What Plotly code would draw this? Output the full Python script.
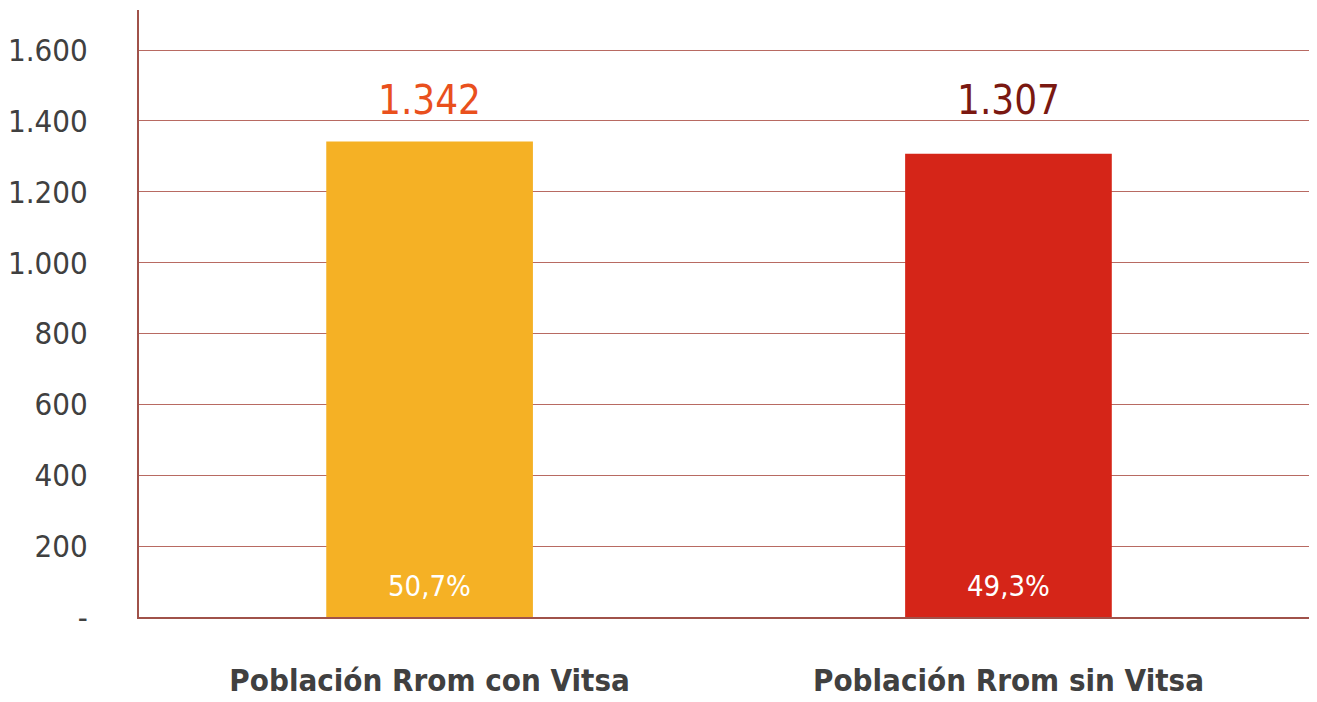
import plotly.graph_objects as go

categories = ["Población Rrom con Vitsa", "Población Rrom sin Vitsa"]
values = [1342, 1307]
shares = [50.7, 49.3]
value_labels = ["1.342", "1.307"]
share_labels = ["50,7%", "49,3%"]
bar_colors = ["#F5B125", "#D52518"]
label_colors = ["#E9501D", "#7A1811"]
y_ticks = [0, 200, 400, 600, 800, 1000, 1200, 1400, 1600]
y_tick_text = ["-", "200", "400", "600", "800", "1.000", "1.200", "1.400", "1.600"]

FONT = "DejaVu Sans Condensed, Liberation Sans Narrow, sans-serif"

fig = go.Figure()
fig.add_trace(go.Bar(
    x=[0, 1], y=values, width=0.357,
    marker=dict(color=bar_colors, line=dict(width=0)),
    hoverinfo="skip",
))

label_level = max(values)
for i, v in enumerate(values):
    fig.add_annotation(x=i, y=label_level, text=value_labels[i], showarrow=False,
                       yanchor="bottom", yshift=16,
                       font=dict(family=FONT, size=40, color=label_colors[i]))
    fig.add_annotation(x=i, y=0, text=share_labels[i], showarrow=False,
                       yanchor="bottom", yshift=12,
                       font=dict(family=FONT, size=29, color="white"))

# page body has an 8px margin, so the figure is sized and offset to compensate
fig.update_layout(
    width=1309, height=694,
    margin=dict(l=131, r=0, t=2, b=85),
    paper_bgcolor="white", plot_bgcolor="white",
    showlegend=False,
    font=dict(family=FONT, color="#404040"),
    xaxis=dict(
        range=[-0.502, 1.533], automargin=False,
        tickmode="array", tickvals=[0, 1], ticktext=categories,
        tickfont=dict(family=FONT, size=31, color="#404040", weight="bold"),
        showgrid=False, zeroline=False,
        showline=True, linecolor="#A0524A", linewidth=2,
        ticks="", ticklabelstandoff=35,
    ),
    yaxis=dict(
        range=[0, 1713], automargin=False,
        tickmode="array", tickvals=y_ticks, ticktext=y_tick_text,
        tickfont=dict(family=FONT, size=31, color="#404040"),
        showgrid=True, gridcolor="#B86A62", gridwidth=1,
        zeroline=False,
        showline=True, linecolor="#A0524A", linewidth=2,
        ticks="", ticklabelstandoff=43,
    ),
)

fig.write_html("out.html")
